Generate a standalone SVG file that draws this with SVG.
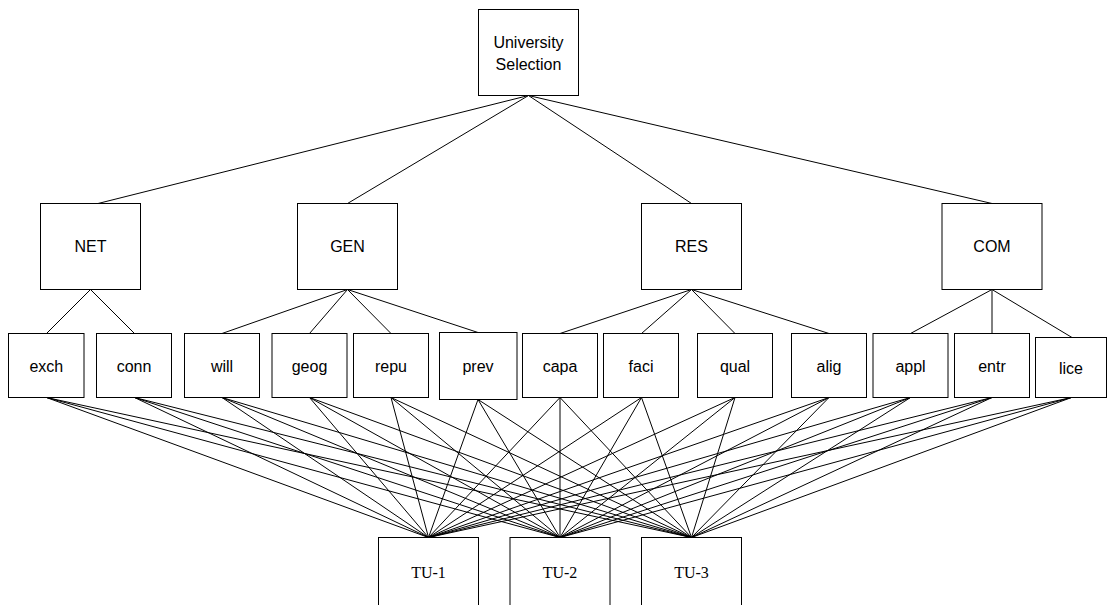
<svg xmlns="http://www.w3.org/2000/svg" width="1108" height="605" viewBox="0 0 1108 605">
<style>
.box{fill:#fff;stroke:#000;stroke-width:1}
.lbl{font-family:"Liberation Sans",Arial,sans-serif;font-size:16px;fill:#000;text-anchor:middle}
.ser{font-family:"Liberation Serif","Times New Roman",serif;font-size:16px;fill:#000;text-anchor:middle}
#connectors line{stroke:#000;stroke-width:1}
</style>
<rect width="1108" height="605" fill="#fff"/>
<g id="connectors">
<line x1="528.5" y1="95.5" x2="98" y2="203.5"/>
<line x1="528.5" y1="95.5" x2="347.5" y2="203.5"/>
<line x1="528.5" y1="95.5" x2="691.5" y2="203.5"/>
<line x1="528.5" y1="95.5" x2="992" y2="203.5"/>
<line x1="90.5" y1="289.5" x2="46.5" y2="333.5"/>
<line x1="90.5" y1="289.5" x2="134.5" y2="333.5"/>
<line x1="347.5" y1="289.5" x2="222" y2="333.5"/>
<line x1="347.5" y1="289.5" x2="309.5" y2="333.5"/>
<line x1="347.5" y1="289.5" x2="391" y2="333.5"/>
<line x1="347.5" y1="289.5" x2="478" y2="332.5"/>
<line x1="691.5" y1="289.5" x2="560" y2="333.5"/>
<line x1="691.5" y1="289.5" x2="641.5" y2="333.5"/>
<line x1="691.5" y1="289.5" x2="735" y2="333.5"/>
<line x1="691.5" y1="289.5" x2="829" y2="333.5"/>
<line x1="992" y1="289.5" x2="910.5" y2="333.5"/>
<line x1="992" y1="289.5" x2="992" y2="333.5"/>
<line x1="992" y1="289.5" x2="1072" y2="337.5"/>
<!-- level 3 to TU -->
<line x1="46.5" y1="397.5" x2="428.5" y2="537.5"/><line x1="46.5" y1="397.5" x2="560" y2="537.5"/><line x1="46.5" y1="397.5" x2="691.5" y2="537.5"/>
<line x1="134.5" y1="397.5" x2="428.5" y2="537.5"/><line x1="134.5" y1="397.5" x2="560" y2="537.5"/><line x1="134.5" y1="397.5" x2="691.5" y2="537.5"/>
<line x1="222" y1="397.5" x2="428.5" y2="537.5"/><line x1="222" y1="397.5" x2="560" y2="537.5"/><line x1="222" y1="397.5" x2="691.5" y2="537.5"/>
<line x1="309.5" y1="397.5" x2="428.5" y2="537.5"/><line x1="309.5" y1="397.5" x2="560" y2="537.5"/><line x1="309.5" y1="397.5" x2="691.5" y2="537.5"/>
<line x1="391" y1="397.5" x2="428.5" y2="537.5"/><line x1="391" y1="397.5" x2="560" y2="537.5"/><line x1="391" y1="397.5" x2="691.5" y2="537.5"/>
<line x1="478" y1="399.5" x2="428.5" y2="537.5"/><line x1="478" y1="399.5" x2="560" y2="537.5"/><line x1="478" y1="399.5" x2="691.5" y2="537.5"/>
<line x1="560" y1="397.5" x2="428.5" y2="537.5"/><line x1="560" y1="397.5" x2="560" y2="537.5"/><line x1="560" y1="397.5" x2="691.5" y2="537.5"/>
<line x1="641.5" y1="397.5" x2="428.5" y2="537.5"/><line x1="641.5" y1="397.5" x2="560" y2="537.5"/><line x1="641.5" y1="397.5" x2="691.5" y2="537.5"/>
<line x1="735" y1="397.5" x2="428.5" y2="537.5"/><line x1="735" y1="397.5" x2="560" y2="537.5"/><line x1="735" y1="397.5" x2="691.5" y2="537.5"/>
<line x1="829" y1="397.5" x2="428.5" y2="537.5"/><line x1="829" y1="397.5" x2="560" y2="537.5"/><line x1="829" y1="397.5" x2="691.5" y2="537.5"/>
<line x1="910.5" y1="397.5" x2="428.5" y2="537.5"/><line x1="910.5" y1="397.5" x2="560" y2="537.5"/><line x1="910.5" y1="397.5" x2="691.5" y2="537.5"/>
<line x1="992" y1="397.5" x2="428.5" y2="537.5"/><line x1="992" y1="397.5" x2="560" y2="537.5"/><line x1="992" y1="397.5" x2="691.5" y2="537.5"/>
<line x1="1071.5" y1="397.5" x2="428.5" y2="537.5"/><line x1="1071.5" y1="397.5" x2="560" y2="537.5"/><line x1="1071.5" y1="397.5" x2="691.5" y2="537.5"/>
</g>
<g id="node-root"><rect class="box" x="478.5" y="9.5" width="100" height="86"/><text class="lbl" x="528.5" y="47.5">University</text><text class="lbl" x="528.5" y="69.5">Selection</text></g>
<g id="node-NET"><rect class="box" x="40.5" y="203.5" width="100" height="86"/><text class="lbl" x="90.5" y="252">NET</text></g>
<g id="node-GEN"><rect class="box" x="297.5" y="203.5" width="100" height="86"/><text class="lbl" x="347.5" y="252">GEN</text></g>
<g id="node-RES"><rect class="box" x="641.5" y="203.5" width="100" height="86"/><text class="lbl" x="691.5" y="252">RES</text></g>
<g id="node-COM"><rect class="box" x="942" y="203.5" width="100" height="86"/><text class="lbl" x="992" y="252">COM</text></g>
<g id="node-exch"><rect class="box" x="8.5" y="333.5" width="75.5" height="64"/><text class="lbl" x="46.3" y="371.5">exch</text></g>
<g id="node-conn"><rect class="box" x="96.5" y="333.5" width="75" height="64"/><text class="lbl" x="134" y="371.5">conn</text></g>
<g id="node-will"><rect class="box" x="184.5" y="333.5" width="75" height="64"/><text class="lbl" x="222" y="371.5">will</text></g>
<g id="node-geog"><rect class="box" x="272" y="333.5" width="75" height="64"/><text class="lbl" x="309.5" y="371.5">geog</text></g>
<g id="node-repu"><rect class="box" x="353.5" y="333.5" width="75" height="64"/><text class="lbl" x="391" y="371.5">repu</text></g>
<g id="node-prev"><rect class="box" x="439.5" y="332.5" width="77.5" height="67"/><text class="lbl" x="478" y="371.5">prev</text></g>
<g id="node-capa"><rect class="box" x="522.5" y="333.5" width="75" height="64"/><text class="lbl" x="560" y="371.5">capa</text></g>
<g id="node-faci"><rect class="box" x="603.5" y="333.5" width="75" height="64"/><text class="lbl" x="641" y="371.5">faci</text></g>
<g id="node-qual"><rect class="box" x="697.5" y="333.5" width="75" height="64"/><text class="lbl" x="735" y="371.5">qual</text></g>
<g id="node-alig"><rect class="box" x="791.5" y="333.5" width="75" height="64"/><text class="lbl" x="829" y="371.5">alig</text></g>
<g id="node-appl"><rect class="box" x="873" y="333.5" width="75" height="64"/><text class="lbl" x="910.5" y="371.5">appl</text></g>
<g id="node-entr"><rect class="box" x="954.5" y="333.5" width="75" height="64"/><text class="lbl" x="992" y="371.5">entr</text></g>
<g id="node-lice"><rect class="box" x="1035.5" y="337.5" width="71" height="60"/><text class="lbl" x="1071" y="373.5">lice</text></g>
<g id="node-TU1"><rect class="box" x="378.5" y="537.5" width="100" height="86"/><text class="ser" x="428.5" y="577.5">TU-1</text></g>
<g id="node-TU2"><rect class="box" x="510" y="537.5" width="100" height="86"/><text class="ser" x="560" y="577.5">TU-2</text></g>
<g id="node-TU3"><rect class="box" x="641.5" y="537.5" width="100" height="86"/><text class="ser" x="691.5" y="577.5">TU-3</text></g>
</svg>
